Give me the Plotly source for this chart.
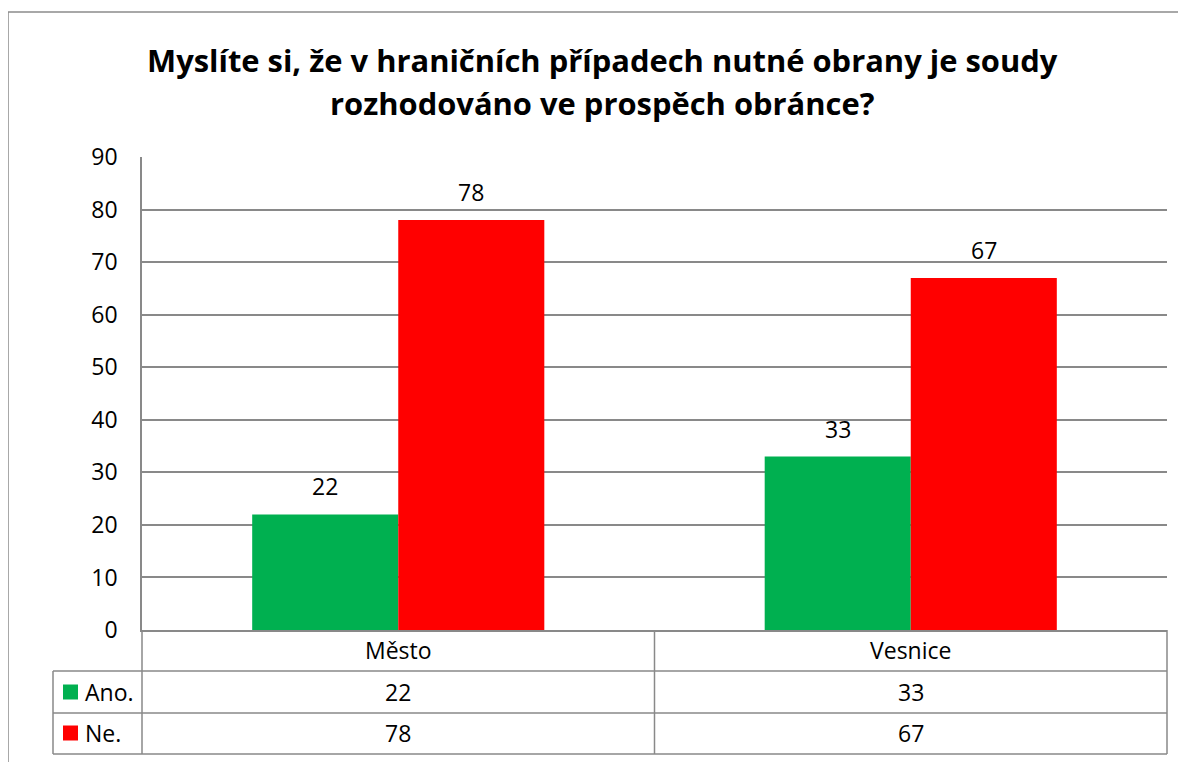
import plotly.graph_objects as go

categories = ["Město", "Vesnice"]
series_names = ["Ano.", "Ne."]
ano_values = [22, 33]
ne_values = [78, 67]
series_values = [ano_values, ne_values]
colors = ["#00B050", "#FF0000"]
title_lines = ["Myslíte si, že v hraničních případech nutné obrany je soudy",
               "rozhodováno ve prospěch obránce?"]

# page renders the figure offset by the body margin (8px); work in screen pixels
OFF = 8
W, H = 1186 - OFF, 762 - OFF
PL, PR, PT, PB = 142, 1167, 157, 630  # plot area in screen pixels
L, R, T, B = PL - OFF, (W + OFF) - PR, PT - OFF, (H + OFF) - PB
PW, PH = PR - PL, PB - PT
FONT = "Open Sans"
GRID = "#898989"
FS = 23


def px(xs):
    return (xs - PL) / PW


def py(ys):
    return (PB - ys) / PH


fig = go.Figure()
for name, vals, col in zip(series_names, series_values, colors):
    fig.add_trace(go.Bar(x=categories, y=vals, name=name, marker_color=col,
                         marker_line_width=0))

bargap = 0.43
bw = (1 - bargap) / len(series_names)
annotations = []
# data labels above bars
for s, vals in enumerate(series_values):
    off = (s - (len(series_names) - 1) / 2) * bw
    for i, v in enumerate(vals):
        annotations.append(dict(x=i + off, y=v, xref="x", yref="y", text=str(v),
                                showarrow=False, yanchor="bottom", yshift=10,
                                font=dict(family=FONT, size=FS, color="#000")))

# title lines
for ys, line_text in zip([60, 103], title_lines):
    annotations.append(dict(x=px(602), y=py(ys), xref="paper", yref="paper",
                            text="<b>" + line_text + "</b>", showarrow=False,
                            xanchor="center", yanchor="middle",
                            font=dict(family=FONT, size=30.9, color="#000")))

# data table text
row_centers = [692, 733]
for i, c in enumerate(categories):
    annotations.append(dict(x=i, y=py(650), xref="x", yref="paper", text=c,
                            showarrow=False, yanchor="middle",
                            font=dict(family=FONT, size=FS, color="#000")))
    for s, vals in enumerate(series_values):
        annotations.append(dict(x=i, y=py(row_centers[s]), xref="x", yref="paper",
                                text=str(vals[i]), showarrow=False, yanchor="middle",
                                font=dict(family=FONT, size=FS, color="#000")))
for s, name in enumerate(series_names):
    annotations.append(dict(x=px(83), y=py(row_centers[s]), xref="paper", yref="paper",
                            text=name, showarrow=False, xanchor="left", yanchor="middle",
                            font=dict(family=FONT, size=FS, color="#000")))

shapes = []
line = dict(color=GRID, width=1.5)
# outer chart border
shapes.append(dict(type="rect", xref="paper", yref="paper", x0=px(8), x1=px(1200),
                   y0=py(12), y1=py(790), line=dict(color="#8c8c8c", width=1.5)))
# table horizontal lines
for yy in [671, 713, 754]:
    shapes.append(dict(type="line", xref="paper", yref="paper", x0=px(53), x1=1,
                       y0=py(yy), y1=py(yy), line=line))
# vertical lines
shapes.append(dict(type="line", xref="paper", yref="paper", x0=0, x1=0,
                   y0=0, y1=py(754), line=line))
shapes.append(dict(type="line", xref="paper", yref="paper", x0=px(53), x1=px(53),
                   y0=py(671), y1=py(754), line=line))
shapes.append(dict(type="line", xref="x", yref="paper", x0=0.5, x1=0.5,
                   y0=0, y1=py(754), line=line))
shapes.append(dict(type="line", xref="paper", yref="paper", x0=1, x1=1,
                   y0=0, y1=py(754), line=line))
# legend keys
for s, col in enumerate(colors):
    cy = row_centers[s]
    shapes.append(dict(type="rect", xref="paper", yref="paper", x0=px(63), x1=px(78),
                       y0=py(cy + 7.5), y1=py(cy - 7.5), fillcolor=col, line_width=0))

fig.update_layout(
    width=W, height=H,
    margin=dict(l=L, r=R, t=T, b=B, pad=0),
    barmode="group", bargap=bargap, bargroupgap=0,
    showlegend=False,
    plot_bgcolor="white", paper_bgcolor="white",
    annotations=annotations, shapes=shapes,
    xaxis=dict(range=[-0.5, 1.5], showticklabels=False, showgrid=False,
               showline=True, linecolor=GRID, linewidth=1.5, zeroline=False),
    yaxis=dict(range=[0, 90], dtick=10, showgrid=True, gridcolor=GRID, gridwidth=1.5,
               showline=True, linecolor=GRID, linewidth=1.5, zeroline=False,
               ticks="", ticklabelstandoff=18,
               tickfont=dict(family=FONT, size=FS, color="#000")),
)
fig.write_html("out.html")
